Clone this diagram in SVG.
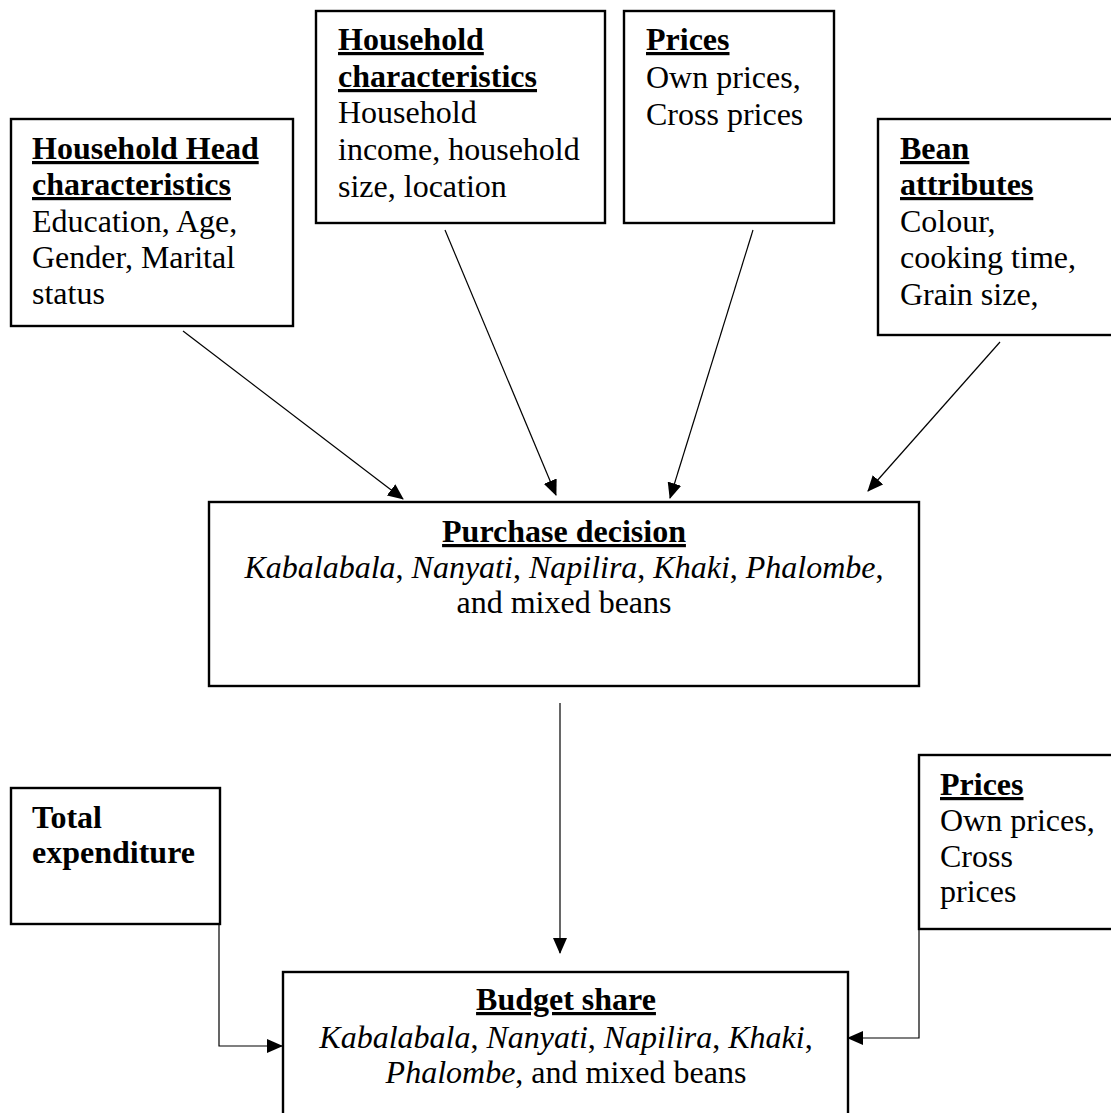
<svg xmlns="http://www.w3.org/2000/svg" width="1111" height="1113" viewBox="0 0 1111 1113">
<defs>
<marker id="ah" markerWidth="16" markerHeight="14" refX="15" refY="7" orient="auto" markerUnits="userSpaceOnUse">
<path d="M0,0 L16,7 L0,14 Z" fill="#000"/>
</marker>
<style>
.box{fill:#fff;stroke:#000;stroke-width:2.4}
.t{font-family:"Liberation Serif","Times New Roman",serif;font-size:32px;fill:#000}
.b{font-weight:bold}
.u{text-decoration:underline}
.i{font-style:italic}
.c{text-anchor:middle}
.con{fill:none;stroke:#000;stroke-width:1.2}
</style>
</defs>
<rect width="1111" height="1113" fill="#fff"/>
<g id="connectors">
<line class="con" x1="183" y1="331" x2="403" y2="499" marker-end="url(#ah)"/>
<line class="con" x1="445" y1="230" x2="556" y2="495" marker-end="url(#ah)"/>
<line class="con" x1="753" y1="230" x2="670" y2="498" marker-end="url(#ah)"/>
<line class="con" x1="1000" y1="342" x2="868" y2="491" marker-end="url(#ah)"/>
<line class="con" x1="560" y1="703" x2="560" y2="953" marker-end="url(#ah)"/>
<polyline class="con" points="219,924 219,1046 282,1046" marker-end="url(#ah)"/>
<polyline class="con" points="919,929 919,1038 848,1038" marker-end="url(#ah)"/>
</g>
<g id="hh-head">
<rect class="box" x="11" y="119" width="282" height="207"/>
<text class="t" x="32" y="159"><tspan class="b u">Household Head</tspan><tspan class="b u" x="32" y="195">characteristics</tspan><tspan x="32" y="232">Education, Age,</tspan><tspan x="32" y="268">Gender, Marital</tspan><tspan x="32" y="304">status</tspan></text>
</g>
<g id="hh-char">
<rect class="box" x="316" y="11" width="289" height="212"/>
<text class="t" x="338" y="50"><tspan class="b u">Household</tspan><tspan class="b u" x="338" y="87">characteristics</tspan><tspan x="338" y="123">Household</tspan><tspan x="338" y="160">income, household</tspan><tspan x="338" y="197">size, location</tspan></text>
</g>
<g id="prices-top">
<rect class="box" x="624" y="11" width="210" height="212"/>
<text class="t" x="646" y="50"><tspan class="b u">Prices</tspan><tspan x="646" y="88">Own prices,</tspan><tspan x="646" y="125">Cross prices</tspan></text>
</g>
<g id="bean">
<rect class="box" x="878" y="119" width="240" height="216"/>
<text class="t" x="900" y="159"><tspan class="b u">Bean</tspan><tspan class="b u" x="900" y="195">attributes</tspan><tspan x="900" y="232">Colour,</tspan><tspan x="900" y="268">cooking time,</tspan><tspan x="900" y="305">Grain size,</tspan></text>
</g>
<g id="purchase">
<rect class="box" x="209" y="502" width="710" height="184"/>
<text class="t c b u" x="564" y="542">Purchase decision</text>
<text class="t c" x="564" y="578"><tspan class="i">Kabalabala</tspan>, <tspan class="i">Nanyati</tspan>, <tspan class="i">Napilira</tspan>, <tspan class="i">Khaki</tspan>, <tspan class="i">Phalombe</tspan>,</text>
<text class="t c" x="564" y="613">and mixed beans</text>
</g>
<g id="total-exp">
<rect class="box" x="11" y="788" width="209" height="136"/>
<text class="t b" x="32" y="828">Total<tspan x="32" y="863">expenditure</tspan></text>
</g>
<g id="prices-bottom">
<rect class="box" x="919" y="755" width="200" height="174"/>
<text class="t" x="940" y="795"><tspan class="b u">Prices</tspan><tspan x="940" y="831">Own prices,</tspan><tspan x="940" y="867">Cross</tspan><tspan x="940" y="902">prices</tspan></text>
</g>
<g id="budget">
<rect class="box" x="283" y="972" width="565" height="150"/>
<text class="t c b u" x="566" y="1010">Budget share</text>
<text class="t c" x="566" y="1048"><tspan class="i">Kabalabala</tspan>, <tspan class="i">Nanyati</tspan>, <tspan class="i">Napilira</tspan>, <tspan class="i">Khaki</tspan>,</text>
<text class="t c" x="566" y="1083"><tspan class="i">Phalombe</tspan>, and mixed beans</text>
</g>
</svg>
